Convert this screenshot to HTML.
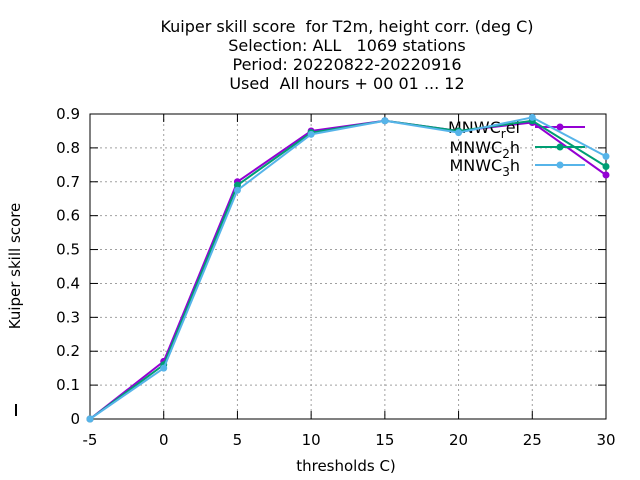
<!DOCTYPE html>
<html><head><meta charset="utf-8"><style>
body{margin:0;background:#fff}
svg{display:block;font-family:"DejaVu Sans","Liberation Sans",sans-serif}
text{white-space:pre}
</style></head><body>
<svg id="chart" width="640" height="480"></svg>
<script>
const categories=[-5,0,5,10,15,20,25,30];
const yTicks=[0,0.1,0.2,0.3,0.4,0.5,0.6,0.7,0.8,0.9];
const yTickLabels=["0","0.1","0.2","0.3","0.4","0.5","0.6","0.7","0.8","0.9"];
const seriesNames=["MNWC_rel","MNWC_2h","MNWC_3h"];
const seriesColors=["#9400d3","#009e73","#56b4e9"];
const relValues=[0,0.17,0.70,0.85,0.88,0.85,0.875,0.72];
const h2Values=[0,0.16,0.69,0.845,0.88,0.85,0.88,0.745];
const h3Values=[0,0.15,0.675,0.84,0.88,0.845,0.89,0.775];
const allSeries=[relValues,h2Values,h3Values];
const L=90,R=606,T=114,B=419;
const xs=v=>L+(v+5)/35*(R-L);
const ys=v=>B-v/0.9*(B-T);
const NS="http://www.w3.org/2000/svg";
const svg=document.getElementById('chart');
function mk(tag,attrs,parent){const e=document.createElementNS(NS,tag);for(const k in attrs)e.setAttribute(k,attrs[k]);(parent||svg).appendChild(e);return e;}
function txt(x,y,s,anchor,size){const t=mk('text',{x:x,y:y,'text-anchor':anchor||'middle','font-size':size||15,fill:'#000'});t.textContent=s;return t;}
const titles=["Kuiper skill score  for T2m, height corr. (deg C)","Selection: ALL   1069 stations","Period: 20220822-20220916","Used  All hours + 00 01 ... 12"];
titles.forEach((s,i)=>{const t=txt(347,32+i*19,s,'middle',16);

});
yTicks.forEach((v,i)=>{const y=ys(v);
if(i>0&&i<yTicks.length-1){const g=mk('line',{x1:L,x2:R,y1:y,y2:y,stroke:'#a0a0a0','stroke-dasharray':'2,3','stroke-width':1});

}
mk('line',{x1:L,x2:L+8,y1:y,y2:y,stroke:'#000'});mk('line',{x1:R,x2:R-8,y1:y,y2:y,stroke:'#000'});
const t=txt(L-10,y+5,yTickLabels[i],'end',15);

});
categories.forEach((c,i)=>{const x=xs(c);
if(i>0&&i<categories.length-1){const g=mk('line',{x1:x,x2:x,y1:T,y2:B,stroke:'#a0a0a0','stroke-dasharray':'2,3','stroke-width':1});

}
mk('line',{x1:x,x2:x,y1:B,y2:B-8,stroke:'#000'});mk('line',{x1:x,x2:x,y1:T,y2:T+8,stroke:'#000'});
const t=txt(x,445,String(c),'middle',15);

});
const frame=mk('rect',{x:L,y:T,width:R-L,height:B-T,fill:'none',stroke:'#000','stroke-width':1});


mk('line',{x1:16,x2:16,y1:404,y2:416,stroke:'#000','stroke-width':2});
const xt=txt(346,471,'thresholds C)','middle',15);


const yt=txt(0,0,'Kuiper skill score','middle',15);yt.setAttribute('transform','translate(20,266) rotate(-90)');


const legY=[127,147,165];
const legLabels=[["MNWC","r","el"],["MNWC","2","h"],["MNWC","3","h"]];
allSeries.forEach((vals,si)=>{const col=seriesColors[si];
const pts=vals.map((v,i)=>xs(categories[i])+','+ys(v)).join(' ');
const pl=mk('polyline',{points:pts,fill:'none',stroke:col,'stroke-width':2});


vals.forEach((v,i)=>{const c=mk('circle',{cx:xs(categories[i]),cy:ys(v),r:3.5,fill:col});

});
const y=legY[si];
const t=mk('text',{x:520,y:y+6,'text-anchor':'end','font-size':16,fill:'#000'});


t.textContent=legLabels[si][0];
const sub=mk('tspan',{dy:5,'font-size':12},t);sub.textContent=legLabels[si][1];
const rest=mk('tspan',{dy:-5},t);rest.textContent=legLabels[si][2];
const ll=mk('line',{x1:535,x2:585,y1:y,y2:y,stroke:col,'stroke-width':2});


mk('circle',{cx:560,cy:y,r:3.5,fill:col});});
</script>
</body></html>
